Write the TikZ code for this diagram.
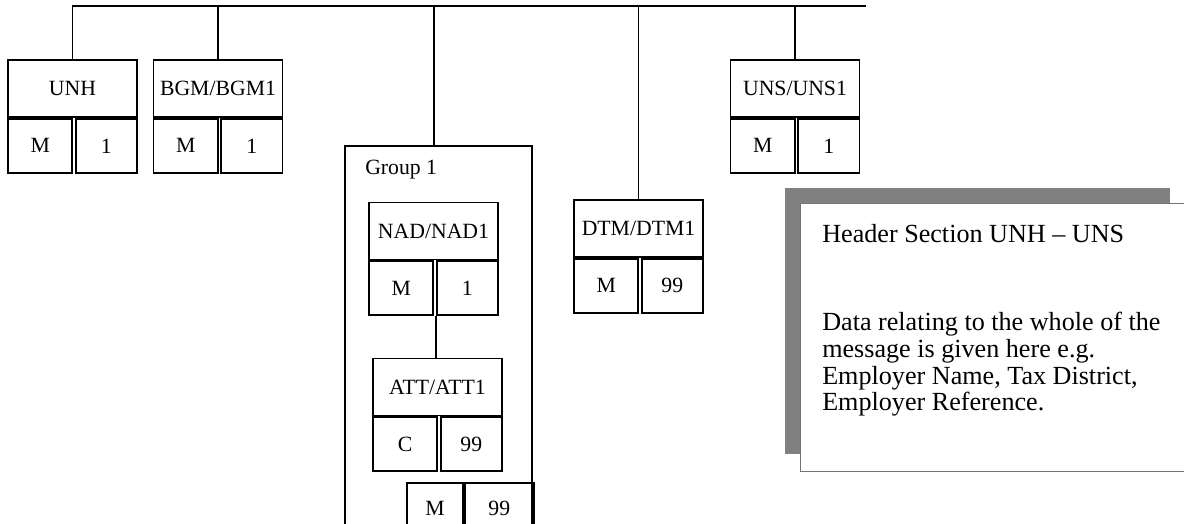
\documentclass[tikz,border=0pt]{standalone}
\usepackage{fontspec}
\setmainfont{Liberation Serif}
\usetikzlibrary{positioning}

\tikzset{
  seghead/.style={draw, line width=1.4pt, minimum width=96.75pt, minimum height=42.75pt, inner sep=0pt, font=\fontsize{16.3}{18}\selectfont},
  cellm/.style={draw, line width=1.4pt, minimum width=48.3pt, minimum height=40.5pt, inner sep=0pt, anchor=north west, font=\fontsize{16.3}{18}\selectfont},
  celln/.style={draw, line width=1.4pt, minimum width=46pt, minimum height=40.5pt, inner sep=0pt, anchor=north east, font=\fontsize{16.3}{18}\selectfont},
  link/.style={line width=1.4pt},
}

\begin{document}
\begin{tikzpicture}[x=0.75pt,y=0.75pt,yscale=-1,xscale=1]
\useasboundingbox (0,0) rectangle (1184,524);
\clip (0,0) rectangle (1184,524);

%Shape: Group 1 frame
\node [draw, line width=1.4pt, anchor=north west, minimum width=140.25pt, minimum height=300pt, inner sep=0pt] (grp) at (344,145) {};
% Text Node
\node [anchor=base west, inner sep=0pt, font=\fontsize{16.3}{18}\selectfont] (grplabel) at (365,175) {Group 1};

%Shape: Segment UNH
\node [seghead] (unh) at (72.5,88.5) {UNH};
\node [cellm] (unhm) at (unh.south west) {M};
\node [celln] (unhn) at (unh.south east) {1};

%Shape: Segment BGM
\node [seghead] (bgm) at (218,88.5) {BGM/BGM1};
\node [cellm] (bgmm) at (bgm.south west) {M};
\node [celln] (bgmn) at (bgm.south east) {1};

%Shape: Segment UNS
\node [seghead] (uns) at (795,88.5) {UNS/UNS1};
\node [cellm] (unsm) at (uns.south west) {M};
\node [celln] (unsn) at (uns.south east) {1};

%Shape: Segment DTM
\node [seghead] (dtm) at (638.5,228.5) {DTM/DTM1};
\node [cellm] (dtmm) at (dtm.south west) {M};
\node [celln] (dtmn) at (dtm.south east) {99};

%Shape: Segment NAD
\node [seghead] (nad) at (433.5,231) {NAD/NAD1};
\node [cellm] (nadm) at (nad.south west) {M};
\node [celln] (nadn) at (nad.south east) {1};

%Shape: Segment ATT
\node [seghead] (att) at (437.5,387) {ATT/ATT1};
\node [cellm] (attm) at (att.south west) {C};
\node [celln] (attn) at (att.south east) {99};

%Shape: Group 1 status
\node [cellm, minimum width=42pt, minimum height=37.5pt] (grpm) at (406,482) {M};
\node [cellm, minimum width=51.75pt, minimum height=37.5pt] (grpn) at (grpm.north east) {99};

%Straight Lines: bus
\coordinate (busend) at (866,6);
\draw [link] (unh.north) |- (busend);
\draw [link] (bgm.north) -- (bgm.north |- busend);
\draw [link] ([xshift=-3.4pt]grp.north) -- ([xshift=-3.4pt]grp.north |- busend);
\draw [link] (dtm.north) -- (dtm.north |- busend);
\draw [link] (uns.north) -- (uns.north |- busend);
\draw [link] ([xshift=1.3pt]nadm.south east) -- ([xshift=1.3pt]nadm.south east |- att.north);

%Shape: Note with shadow
\node [fill={rgb, 255:red, 128; green, 128; blue, 128}, anchor=north west, minimum width=288.75pt, minimum height=199.5pt, inner sep=0pt] (shadow) at (785,188) {};
\node [draw=black!55, fill=white, line width=0.9pt, anchor=north west, minimum width=300pt, minimum height=201pt, inner sep=0pt] (note) at (800,203) {};
% Text Node
\node [anchor=base west, inner sep=0pt, font=\fontsize{19.6}{20}\selectfont] (notehead) at (822,242) {Header Section UNH -- UNS};
% Text Node
\node [anchor=north west, inner sep=0pt, align=left, font=\fontsize{19.6}{20}\selectfont] (notebody) at (822,312) {Data relating to the whole of the\\message is given here e.g.\\Employer Name, Tax District,\\Employer Reference.};

\end{tikzpicture}
\end{document}
